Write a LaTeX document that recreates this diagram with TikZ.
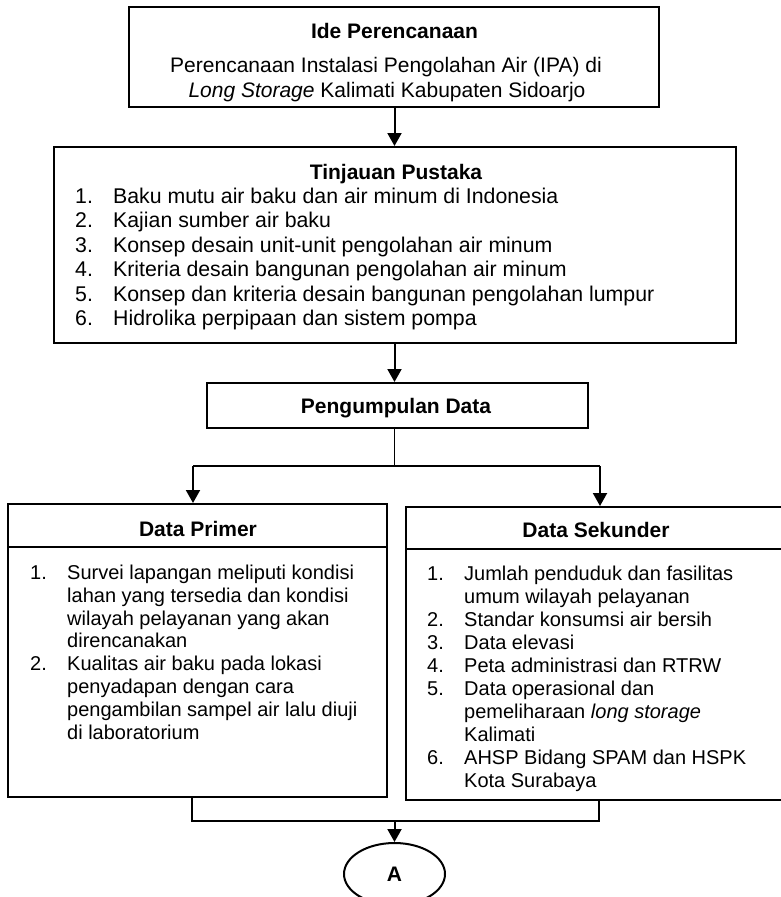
\documentclass[tikz,border=0pt]{standalone}
\usepackage{fontspec}
\setmainfont{Liberation Sans}
\usetikzlibrary{arrows.meta,shapes.geometric}
\begin{document}
\begin{tikzpicture}[x=1pt,y=-1pt,
  box/.style={draw,line width=2pt,inner sep=0pt},
  ttl/.style={font=\fontsize{21}{24}\selectfont\bfseries,inner sep=0pt,anchor=base},
  ctr/.style={font=\fontsize{21}{24}\selectfont,inner sep=0pt,anchor=base},
  big/.style={font=\fontsize{21.3}{24}\selectfont,inner sep=0pt,anchor=base west},
  sml/.style={font=\fontsize{20}{23}\selectfont,inner sep=0pt,anchor=base west},
  thinln/.style={line width=1.2pt},
  arr/.style={line width=2pt,-{Triangle[length=13pt,width=14pt]}},
]
\useasboundingbox (0,0) rectangle (781,897);
\coordinate (axis) at (394.5,0);

% Ide Perencanaan
\node[box,minimum width=530pt,minimum height=100pt] (ide) at (394,57) {};
\node[ttl] (ide1) at (394.5,38) {Ide Perencanaan};
\node[ctr] (ide2) at (386,72) {Perencanaan Instalasi Pengolahan Air (IPA) di};
\node[ctr] (ide3) at (387,97) {\textit{Long Storage} Kalimati Kabupaten Sidoarjo};

% Tinjauan Pustaka
\node[box,minimum width=682pt,minimum height=196pt] (tp) at (395,245) {};
\node[ttl] (tpt) at (396,179.5) {Tinjauan Pustaka};
\foreach \n/\t [count=\i] in {1./Baku mutu air baku dan air minum di Indonesia,
  2./Kajian sumber air baku,
  3./Konsep desain unit-unit pengolahan air minum,
  4./Kriteria desain bangunan pengolahan air minum,
  5./Konsep dan kriteria desain bangunan pengolahan lumpur,
  6./Hidrolika perpipaan dan sistem pompa}
  \node[big] (tp\i) at (75,203.5+24.4*\i-24.4) {\makebox[38pt][l]{\n}\t};

% Pengumpulan Data
\node[box,minimum width=381pt,minimum height=45pt] (pd) at (397.5,405.5) {};
\node[ttl] (pdt) at (396,413) {Pengumpulan Data};

% Data Primer
\node[box,minimum width=379pt,minimum height=293pt] (prim) at (197.5,650.5) {};
\draw[line width=2pt] ([yshift=-44pt]prim.north west) -- ([yshift=-44pt]prim.north east);
\node[ttl] (primt) at (198,536.5) {Data Primer};
\foreach \n/\t [count=\i] in {1./Survei lapangan meliputi kondisi,
  /lahan yang tersedia dan kondisi,
  /wilayah pelayanan yang akan,
  /direncanakan,
  2./Kualitas air baku pada lokasi,
  /penyadapan dengan cara,
  /pengambilan sampel air lalu diuji,
  /di laboratorium}
  \node[sml] (pr\i) at (30,579.2+22.9*\i-22.9) {\makebox[37pt][l]{\n}\t};

% Data Sekunder
\node[box,minimum width=376pt,minimum height=293pt] (sek) at (594,653.5) {};
\draw[line width=2pt] ([yshift=-43pt]sek.north west) -- ([yshift=-43pt]sek.north east);
\node[ttl] (sekt) at (596,537.5) {Data Sekunder};
\foreach \n/\t [count=\i] in {1./Jumlah penduduk dan fasilitas,
  /umum wilayah pelayanan,
  2./Standar konsumsi air bersih,
  3./Data elevasi,
  4./Peta administrasi dan RTRW,
  5./Data operasional dan,
  /pemeliharaan \textit{long storage},
  /Kalimati,
  6./AHSP Bidang SPAM dan HSPK,
  /Kota Surabaya}
  \node[sml] (sk\i) at (427,580.2+23*\i-23) {\makebox[37pt][l]{\n}\t};

% A connector
\node[draw,ellipse,line width=2pt,minimum width=101pt,minimum height=62pt,inner sep=0pt,
  font=\fontsize{21}{24}\selectfont\bfseries] (A) at (394.5,874) {A};

% connectors
\draw[arr] (ide.south -| axis) -- (tp.north -| axis);
\draw[arr] (tp.south -| axis) -- (pd.north -| axis);
\coordinate (split) at (394.5,466);
\coordinate (sl) at (193,466);
\coordinate (sr) at (600,466);
\draw[thinln] (pd.south -| axis) -- (split);
\draw[thinln] (sl) -- (sr);
\draw[arr] (sl) -- (prim.north -| sl);
\draw[arr] (sr) -- (sek.north -| sr);
\coordinate (jl) at (192,821);
\coordinate (jr) at (599,821);
\draw[thinln] (prim.south -| jl) -- (jl) -- (jr) -- (sek.south -| jr);
\draw[arr] (jl -| axis) -- (A.north);
\end{tikzpicture}
\end{document}
